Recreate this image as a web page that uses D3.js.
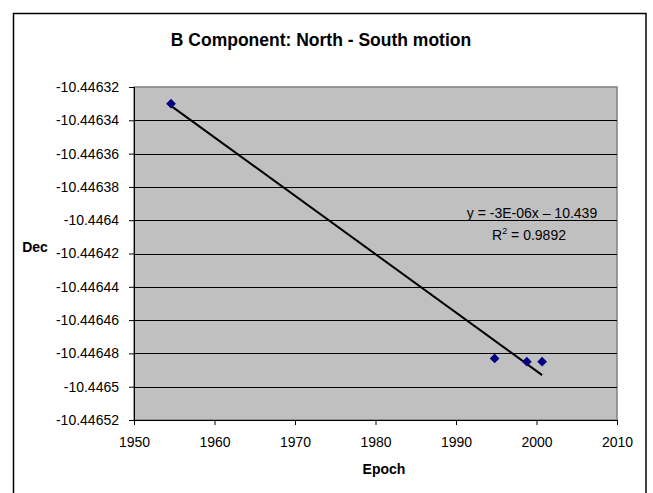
<!DOCTYPE html>
<html>
<head>
<meta charset="utf-8">
<script src="https://cdn.jsdelivr.net/npm/d3@7"></script>
<style>
  html, body { margin: 0; padding: 0; background: #fff; }
  svg { display: block; font-family: Arial, "Liberation Sans", sans-serif; }
</style>
</head>
<body>
<svg id="chart" width="653" height="493"></svg>
<script>
// ---- data ----
const epochs = [1954.6, 1994.8, 1998.8, 2000.7];
const decValues = [-10.44633, -10.446483, -10.446485, -10.446485];
const yTicks = [-10.44632, -10.44634, -10.44636, -10.44638, -10.4464, -10.44642,
                -10.44644, -10.44646, -10.44648, -10.4465, -10.44652];
const xTicks = [1950, 1960, 1970, 1980, 1990, 2000, 2010];
const titleText = "B Component: North - South motion";
const xTitle = "Epoch";
const yTitle = "Dec";
const eqText = "y = -3E-06x \u2013 10.439";
const r2Value = "0.9892";

// ---- layout ----
const svg = d3.select("#chart");
const plot = { left: 134, top: 87, right: 617, bottom: 420 };

const x = d3.scaleLinear().domain([1950, 2010]).range([plot.left, plot.right]);
const y = d3.scaleLinear().domain([-10.44652, -10.44632]).range([plot.bottom, plot.top]);

// outer frame
svg.append("rect")
  .attr("x", 13.5).attr("y", 13.5).attr("width", 632.5).attr("height", 500)
  .attr("fill", "#fff").attr("stroke", "#000").attr("stroke-width", 1.5);

// plot background
svg.append("rect")
  .attr("x", plot.left).attr("y", plot.top)
  .attr("width", plot.right - plot.left).attr("height", plot.bottom - plot.top)
  .attr("fill", "#c0c0c0").attr("stroke", "#808080").attr("stroke-width", 1.5);

// gridlines (interior)
svg.append("g").selectAll("line")
  .data(yTicks.slice(1, -1))
  .join("line")
  .attr("x1", plot.left).attr("x2", plot.right)
  .attr("y1", d => Math.round(y(d)) + 0.5).attr("y2", d => Math.round(y(d)) + 0.5)
  .attr("stroke", "#000").attr("stroke-width", 1);

const fmtY = d => String(+d.toFixed(5));

// y axis
const yAxis = svg.append("g")
  .attr("transform", `translate(${plot.left},0)`)
  .call(d3.axisLeft(y).tickValues(yTicks).tickFormat(fmtY).tickSize(5).tickPadding(10));
yAxis.select(".domain").attr("stroke", "#000");
yAxis.selectAll(".tick line").attr("stroke", "#000");
yAxis.selectAll("text").attr("font-size", 14).attr("fill", "#000")
  .attr("font-family", "Arial, 'Liberation Sans', sans-serif");

// x axis
const xAxis = svg.append("g")
  .attr("transform", `translate(0,${plot.bottom})`)
  .call(d3.axisBottom(x).tickValues(xTicks).tickFormat(d3.format("d")).tickSize(5).tickPadding(12));
xAxis.select(".domain").attr("stroke", "#000");
xAxis.selectAll(".tick line").attr("stroke", "#000");
xAxis.selectAll("text").attr("font-size", 14).attr("fill", "#000")
  .attr("font-family", "Arial, 'Liberation Sans', sans-serif");

// linear regression trendline
const n = epochs.length;
const mx = d3.mean(epochs), my = d3.mean(decValues);
let sxy = 0, sxx = 0;
for (let i = 0; i < n; i++) {
  sxy += (epochs[i] - mx) * (decValues[i] - my);
  sxx += (epochs[i] - mx) * (epochs[i] - mx);
}
const slope = sxy / sxx;
const intercept = my - slope * mx;
const [xmin, xmax] = d3.extent(epochs);
svg.append("line")
  .attr("x1", x(xmin)).attr("y1", y(slope * xmin + intercept))
  .attr("x2", x(xmax)).attr("y2", y(slope * xmax + intercept))
  .attr("stroke", "#000").attr("stroke-width", 2);

// markers (diamonds)
const pts = epochs.map((e, i) => ({ e, v: decValues[i] }));
svg.append("g").selectAll("path")
  .data(pts)
  .join("path")
  .attr("d", d3.symbol(d3.symbolDiamond2, 60))
  .attr("transform", d => `translate(${x(d.e)},${y(d.v)})`)
  .attr("fill", "#000080");

// equation labels
svg.append("text")
  .attr("x", 532).attr("y", 218)
  .attr("text-anchor", "middle").attr("font-size", 14)
  .text(eqText);
const r2 = svg.append("text")
  .attr("x", 529).attr("y", 240)
  .attr("text-anchor", "middle").attr("font-size", 14);
r2.append("tspan").text("R");
r2.append("tspan").attr("dy", -6).attr("font-size", 9).text("2");
r2.append("tspan").attr("dy", 6).text(" = " + r2Value);

// titles
svg.append("text")
  .attr("x", 321).attr("y", 46)
  .attr("text-anchor", "middle").attr("font-size", 17.5).attr("font-weight", "bold")
  .text(titleText);
svg.append("text")
  .attr("x", 384).attr("y", 474)
  .attr("text-anchor", "middle").attr("font-size", 14).attr("font-weight", "bold")
  .text(xTitle);
svg.append("text")
  .attr("x", 35).attr("y", 252)
  .attr("text-anchor", "middle").attr("font-size", 14).attr("font-weight", "bold")
  .text(yTitle);
</script>
</body>
</html>
